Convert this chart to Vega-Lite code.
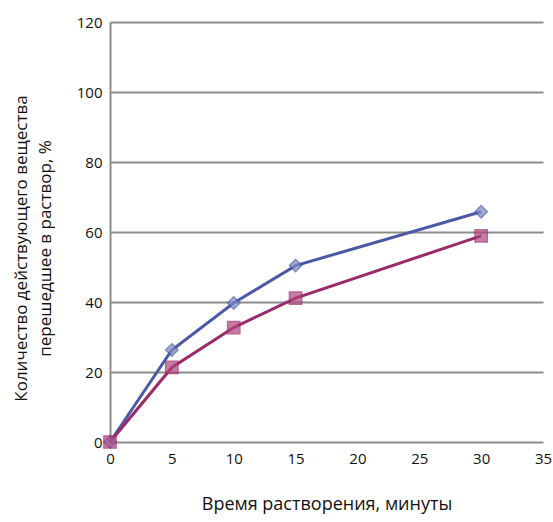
{
  "$schema": "https://vega.github.io/schema/vega-lite/v6.json",
  "width": 433,
  "height": 420,
  "autosize": {"type": "none"},
  "padding": {"left": 110, "top": 22, "right": 10, "bottom": 80},
  "background": "white",
  "config": {"view": {"stroke": null}, "font": "Open Sans"},
  "data": {"values": [
    {"t": 0, "v": 0, "s": "A"},
    {"t": 5, "v": 26.3, "s": "A"},
    {"t": 10, "v": 39.7, "s": "A"},
    {"t": 15, "v": 50.4, "s": "A"},
    {"t": 30, "v": 65.8, "s": "A"},
    {"t": 0, "v": 0, "s": "B"},
    {"t": 5, "v": 21.3, "s": "B"},
    {"t": 10, "v": 32.7, "s": "B"},
    {"t": 15, "v": 41.1, "s": "B"},
    {"t": 30, "v": 58.9, "s": "B"}
  ]},
  "layer": [
    {
      "mark": {"type": "line", "strokeWidth": 3},
      "encoding": {
        "x": {"field": "t", "type": "quantitative", "scale": {"domain": [0, 35], "nice": false},
          "axis": {"values": [0,5,10,15,20,25,30,35], "grid": false, "ticks": false, "domain": false, "labelFlush": false, "labelFontSize": 15, "labelColor": "#111", "labelPadding": 9, "title": "Время растворения, минуты", "titleFontSize": 18, "titleFontWeight": "normal", "titleColor": "#111", "titlePadding": 29}},
        "y": {"field": "v", "type": "quantitative", "scale": {"domain": [0, 120], "nice": false},
          "axis": {"values": [0,20,40,60,80,100,120], "grid": true, "gridColor": "#8c8c8c", "gridWidth": 2, "ticks": false, "domain": true, "domainColor": "#8c8c8c", "domainWidth": 2, "labelFlush": false, "labelFontSize": 15, "labelColor": "#111", "labelPadding": 8, "title": ["Количество действующего вещества", "перешедшее в раствор, %"], "titleFontSize": 17, "titleFontWeight": "normal", "titleColor": "#111", "titlePadding": 22, "titleLineHeight": 24, "titleY": 226}},
        "color": {"field": "s", "type": "nominal", "scale": {"domain": ["A", "B"], "range": ["#4a58a6", "#9a2a68"]}, "legend": null}
      }
    },
    {
      "mark": {"type": "point", "filled": true, "size": 150, "strokeWidth": 1.5},
      "encoding": {
        "x": {"field": "t", "type": "quantitative"},
        "y": {"field": "v", "type": "quantitative"},
        "shape": {"field": "s", "type": "nominal", "scale": {"domain": ["A", "B"], "range": ["diamond", "square"]}, "legend": null},
        "fill": {"field": "s", "type": "nominal", "scale": {"domain": ["A", "B"], "range": ["#7f88c0", "#b0457f"]}, "legend": null},
        "stroke": {"field": "s", "type": "nominal", "scale": {"domain": ["A", "B"], "range": ["#4a58a6", "#9a2a68"]}, "legend": null}
      }
    }
  ]
}
